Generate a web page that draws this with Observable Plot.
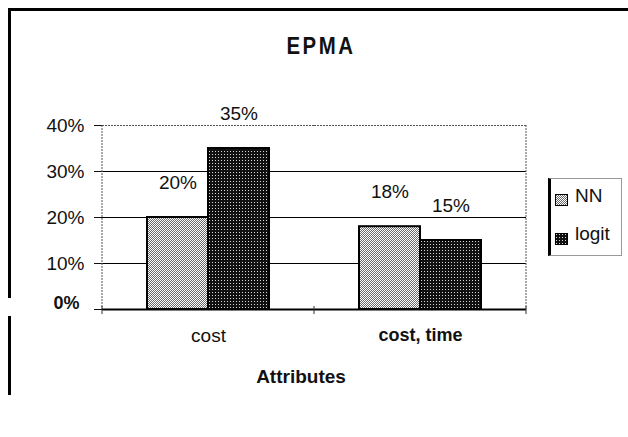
<!DOCTYPE html>
<html>
<head>
<meta charset="utf-8">
<script src="https://cdn.jsdelivr.net/npm/d3@7"></script>
<script src="https://cdn.jsdelivr.net/npm/@observablehq/plot@0.6"></script>
<style>
  body { margin: 0; background: #fff; font-family: "Liberation Sans", Arial, sans-serif; }
  #wrap { position: relative; width: 628px; height: 437px; overflow: hidden; background: #fff; }
  #chart svg { position: absolute; left: 0; top: 0; }
  .abs { position: absolute; }
  .frame { background: #000; }
  #title { left: 221px; top: 34px; width: 200px; text-align: center; font-size: 24px; line-height: 24px;
           font-weight: bold; letter-spacing: 3px; transform: scaleX(0.85); color: #111; }
  #xlabel { left: 201px; top: 367px; width: 200px; text-align: center; font-size: 19px; line-height: 19px;
            font-weight: bold; color: #111; }
  #legend { left: 548px; top: 178px; width: 74px; height: 78px; box-sizing: border-box;
            border-left: 3px solid #000; border-top: 1px solid #999; border-right: 1px solid #999; border-bottom: 1px solid #999; }
  .ltext { font-size: 19px; line-height: 19px; color: #111; }
</style>
</head>
<body>
<svg width="0" height="0" style="position:absolute">
  <defs>
    <pattern id="pNN" width="2" height="2" patternUnits="userSpaceOnUse">
      <rect width="2" height="2" fill="#fff"/>
      <rect width="1" height="1" fill="#6a6a6a"/>
      <rect x="1" y="1" width="1" height="1" fill="#6a6a6a"/>
    </pattern>
    <pattern id="pLogit" width="3" height="3" patternUnits="userSpaceOnUse">
      <rect width="3" height="3" fill="#111"/>
      <rect x="1" y="1" width="1" height="1" fill="#d8d8d8"/>
    </pattern>
  </defs>
</svg>
<div id="wrap">
  <div id="chart"></div>
  <div class="abs frame" style="left:8px;top:8px;width:620px;height:3px"></div>
  <div class="abs frame" style="left:8px;top:8px;width:3px;height:290px"></div>
  <div class="abs frame" style="left:8px;top:316px;width:3px;height:79px"></div>
  <div id="title" class="abs">EPMA</div>
  <div id="xlabel" class="abs">Attributes</div>
  <div id="legend" class="abs"></div>
  <svg class="abs" style="left:555px;top:194px" width="13" height="12"><rect x="0.5" y="0.5" width="12" height="11" fill="url(#pNN)" stroke="#000"/></svg>
  <div class="abs ltext" style="left:575px;top:186px">NN</div>
  <svg class="abs" style="left:555px;top:233px" width="13" height="12"><rect x="0.5" y="0.5" width="12" height="11" fill="url(#pLogit)" stroke="#000"/></svg>
  <div class="abs ltext" style="left:575px;top:224px">logit</div>
</div>
<script>
const categories = ["cost", "cost, time"];
const series = ["NN", "logit"];
const nnValues = [20, 18];
const logitValues = [35, 15];
const yTicks = [0, 10, 20, 30, 40];
const gridValues = [10, 20, 30];

const data = categories.flatMap((c, i) => [
  {category: c, series: series[0], value: nnValues[i]},
  {category: c, series: series[1], value: logitValues[i]}
]);

const plot = Plot.plot({
  width: 628,
  height: 437,
  marginLeft: 101,
  marginRight: 102,
  marginTop: 125,
  marginBottom: 128,
  style: {fontFamily: "'Liberation Sans', Arial, sans-serif", fontSize: "19px", color: "#111", background: "transparent", overflow: "visible"},
  fx: {domain: categories, padding: 0, label: null},
  x: {domain: series, paddingInner: 0, paddingOuter: 0.714, axis: null},
  y: {domain: [0, 40], label: null},
  color: {domain: series, range: ["url(#pNN)", "url(#pLogit)"]},
  marks: [
    Plot.ruleY(gridValues, {stroke: "#000", strokeWidth: 1}),
    Plot.ruleY([40], {stroke: "#555", strokeWidth: 1, strokeDasharray: "2,1"}),
    Plot.barY(data, {fx: "category", x: "series", y: "value", fill: "series", stroke: "#000", strokeWidth: 2}),
    Plot.ruleY([0], {stroke: "#000", strokeWidth: 2}),
    Plot.text(data, {fx: "category", x: "series", y: "value", text: d => d.value + "%", dy: -35, lineAnchor: "middle", fontSize: 19, fill: "#111"}),
    Plot.axisY(yTicks, {tickFormat: d => d + "%", tickSize: 8, tickPadding: 10, fontSize: 19, label: null}),
    Plot.axisFx({anchor: "bottom", tickSize: 0, tickPadding: 19, fontSize: 19, label: null})
  ]
});
document.getElementById("chart").appendChild(plot);

// decorations derived from Plot's own scales
const svg = d3.select(plot);
const fx = plot.scale("fx");
const y = plot.scale("y");
const xStart = fx.apply(categories[0]);
const xEnd = fx.apply(categories[categories.length - 1]) + fx.bandwidth;
const xMid = fx.apply(categories[1]);
const y0 = y.apply(0), yTop = y.apply(40);
const deco = svg.append("g");
[xStart, xEnd].forEach(xv => {
  deco.append("line").attr("x1", xv).attr("x2", xv).attr("y1", yTop).attr("y2", y0)
    .attr("stroke", "#555").attr("stroke-dasharray", "2,1");
});
[xStart, xMid, xEnd].forEach(xv => {
  deco.append("line").attr("x1", xv).attr("x2", xv).attr("y1", y0 - 3).attr("y2", y0 + 5)
    .attr("stroke", "#333").attr("stroke-width", 1);
});

// style tweaks: bold 0% and bold "cost, time"
svg.selectAll('g[aria-label="y-axis tick label"] text').each(function() {
  if (this.textContent === "0%") {
    const t = d3.select(this);
    t.style("font-weight", "bold").style("font-size", "18px");
    t.attr("transform", (t.attr("transform") || "") + " translate(-5,-6)");
  }
});
svg.selectAll('g[aria-label="fx-axis tick label"] text').each(function() {
  if (this.textContent === categories[1]) {
    d3.select(this).style("font-weight", "bold").style("font-size", "18px");
  }
});
</script>
</body>
</html>
